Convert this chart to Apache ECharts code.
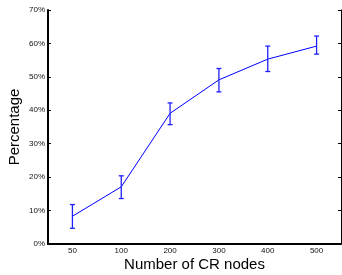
<!DOCTYPE html>
<html>
<head>
<meta charset="utf-8">
<script src="https://cdn.jsdelivr.net/npm/echarts@6/dist/echarts.min.js"></script>
<style>
  html, body { margin: 0; padding: 0; background: #fff; }
  #chart { width: 342px; height: 275px; }
</style>
</head>
<body>
<div id="chart"></div>
<script>
// values
const categories = ['50', '100', '200', '300', '400', '500'];
const means = [8.3, 17.1, 39.1, 49.1, 55.3, 59.2];
const lower = [4.7, 13.6, 35.7, 45.5, 51.6, 56.8];
const upper = [11.8, 20.4, 42.2, 52.5, 59.2, 62.2];

const chart = echarts.init(document.getElementById('chart'));

const errData = categories.map((c, i) => [i, lower[i], upper[i]]);

const fontFamily = 'Liberation Sans, Arial, sans-serif';
const tickFont = { color: '#111', fontSize: 8, fontFamily };
const titleFont = { color: '#000', fontSize: 15, fontFamily };
const tick = { inside: true, alignWithLabel: true, length: 3, lineStyle: { color: '#000' } };

chart.setOption({
    animation: false,
    backgroundColor: '#fff',
    grid: { left: 48, right: 1, top: 10, bottom: 31, containLabel: false, outerBoundsMode: 'none' },
    xAxis: [
        {
            type: 'category',
            data: categories,
            boundaryGap: true,
            axisLine: { lineStyle: { color: '#000', width: 2 } },
            axisTick: tick,
            axisLabel: Object.assign({ margin: 3 }, tickFont),
            splitLine: { show: false },
            name: 'Number of CR nodes',
            nameLocation: 'middle',
            nameGap: 13,
            nameMoveOverlap: false,
            nameTextStyle: titleFont
        },
        {
            type: 'category',
            data: categories,
            position: 'top',
            boundaryGap: true,
            axisLine: { lineStyle: { color: '#000', width: 1 } },
            axisTick: tick,
            axisLabel: { show: false },
            splitLine: { show: false }
        }
    ],
    yAxis: [
        {
            type: 'value',
            min: 0,
            max: 70,
            interval: 10,
            axisLine: { show: true, lineStyle: { color: '#000', width: 2 } },
            axisTick: { show: true, inside: true, length: 3, lineStyle: { color: '#000' } },
            axisLabel: Object.assign({ margin: 3, formatter: '{value}%' }, tickFont),
            splitLine: { show: false },
            name: 'Percentage',
            nameLocation: 'middle',
            nameGap: 26,
            nameMoveOverlap: false,
            nameTextStyle: titleFont
        },
        {
            type: 'value',
            min: 0,
            max: 70,
            interval: 10,
            position: 'right',
            axisLine: { show: true, lineStyle: { color: '#000', width: 1 } },
            axisTick: { show: true, inside: true, length: 3, lineStyle: { color: '#000' } },
            axisLabel: { show: false },
            splitLine: { show: false }
        }
    ],
    series: [
        {
            type: 'line',
            data: means,
            symbol: 'none',
            lineStyle: { color: '#0000ff', width: 1 },
            z: 3
        },
        {
            type: 'custom',
            data: errData,
            z: 4,
            renderItem: (params, api) => {
                const x = api.value(0);
                const lo = api.coord([x, api.value(1)]);
                const hi = api.coord([x, api.value(2)]);
                const half = 2.5;
                const style = { stroke: '#2020ff', lineWidth: 1.3, fill: null };
                return {
                    type: 'group',
                    children: [
                        { type: 'line', shape: { x1: hi[0], y1: hi[1], x2: lo[0], y2: lo[1] }, style },
                        { type: 'line', shape: { x1: hi[0] - half, y1: hi[1], x2: hi[0] + half, y2: hi[1] }, style },
                        { type: 'line', shape: { x1: lo[0] - half, y1: lo[1], x2: lo[0] + half, y2: lo[1] }, style }
                    ]
                };
            }
        }
    ]
});
</script>
</body>
</html>
